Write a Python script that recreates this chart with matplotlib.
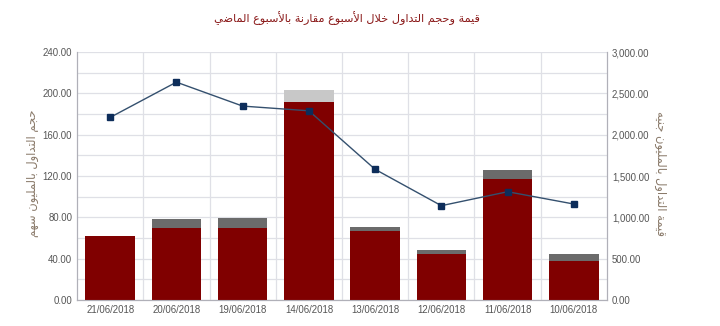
import matplotlib
matplotlib.use("Agg")
import matplotlib.pyplot as plt
import numpy as np

# data
dates = ["21/06/2018", "20/06/2018", "19/06/2018", "14/06/2018",
         "13/06/2018", "12/06/2018", "11/06/2018", "10/06/2018"]
volume_main = [62.0, 70.0, 70.0, 192.0, 67.0, 44.5, 117.0, 38.0]
volume_extra = [0.0, 8.5, 9.5, 11.0, 3.5, 3.5, 8.5, 6.0]
extra_colors = ["#6b6b6b", "#6b6b6b", "#6b6b6b", "#c8c8c8",
                "#6b6b6b", "#6b6b6b", "#6b6b6b", "#6b6b6b"]
value = [2210, 2637, 2347, 2290, 1581, 1141, 1310, 1161]

title = "قيمة وحجم التداول خلال الأسبوع مقارنة بالأسبوع الماضي"
left_label = "حجم التداول بالمليون سهم"
right_label = "قيمة التداول بالمليون جنيه"

# matplotlib has no arabic shaping, so do a small one by hand
# (isolated, final, initial, medial); two forms = joins only to the right
FORMS = {
    "ا": (0xFE8D, 0xFE8E), "أ": (0xFE83, 0xFE84),
    "ب": (0xFE8F, 0xFE90, 0xFE91, 0xFE92), "ة": (0xFE93, 0xFE94),
    "ت": (0xFE95, 0xFE96, 0xFE97, 0xFE98), "ج": (0xFE9D, 0xFE9E, 0xFE9F, 0xFEA0),
    "ح": (0xFEA1, 0xFEA2, 0xFEA3, 0xFEA4), "خ": (0xFEA5, 0xFEA6, 0xFEA7, 0xFEA8),
    "د": (0xFEA9, 0xFEAA), "ر": (0xFEAD, 0xFEAE),
    "س": (0xFEB1, 0xFEB2, 0xFEB3, 0xFEB4), "ض": (0xFEBD, 0xFEBE, 0xFEBF, 0xFEC0),
    "ع": (0xFEC9, 0xFECA, 0xFECB, 0xFECC), "ق": (0xFED5, 0xFED6, 0xFED7, 0xFED8),
    "ل": (0xFEDD, 0xFEDE, 0xFEDF, 0xFEE0), "م": (0xFEE1, 0xFEE2, 0xFEE3, 0xFEE4),
    "ن": (0xFEE5, 0xFEE6, 0xFEE7, 0xFEE8), "ه": (0xFEE9, 0xFEEA, 0xFEEB, 0xFEEC),
    "و": (0xFEED, 0xFEEE), "ي": (0xFEF1, 0xFEF2, 0xFEF3, 0xFEF4),
}
LAM_ALEF = {"ا": (0xFEFB, 0xFEFC), "أ": (0xFEF7, 0xFEF8)}


def shape(text):
    # merge lam + alef first
    units = []
    i = 0
    while i < len(text):
        c = text[i]
        if c == "ل" and i + 1 < len(text) and text[i + 1] in LAM_ALEF:
            units.append(("LA", text[i + 1]))
            i += 2
        else:
            units.append(("C", c))
            i += 1

    def dual(u):
        return u[0] == "C" and u[1] in FORMS and len(FORMS[u[1]]) == 4

    def arabic(u):
        return u[0] == "LA" or u[1] in FORMS

    out = []
    for k, u in enumerate(units):
        prev_join = k > 0 and dual(units[k - 1]) and arabic(u)
        if u[0] == "LA":
            f = LAM_ALEF[u[1]]
            out.append(chr(f[1] if prev_join else f[0]))
            continue
        c = u[1]
        if c not in FORMS:
            out.append(c)
            continue
        f = FORMS[c]
        next_join = dual(u) and k + 1 < len(units) and arabic(units[k + 1])
        if prev_join and next_join:
            out.append(chr(f[3]))
        elif prev_join:
            out.append(chr(f[1]))
        elif next_join:
            out.append(chr(f[2]))
        else:
            out.append(chr(f[0]))
    return "".join(out)[::-1]


plt.rcParams["font.family"] = ["Liberation Sans", "DejaVu Sans"]

fig = plt.figure(figsize=(7.2, 3.26), dpi=100)
ax = fig.add_axes([0.107, 0.080, 0.736, 0.760])
ax2 = ax.twinx()

x = np.arange(len(dates))
ax.bar(x, volume_main, width=0.75, color="#800000", zorder=3)
ax.bar(x, volume_extra, width=0.75, bottom=volume_main, color=extra_colors, zorder=3)

ax.set_xlim(-0.5, len(dates) - 0.5)
ax.set_ylim(0, 240)
ax.set_yticks(np.arange(0, 241, 40))
ax.set_yticklabels(["%.2f" % v for v in np.arange(0, 241, 40)])
ax.set_yticks(np.arange(0, 241, 20), minor=True)
ax.set_xticks(x)
ax.set_xticklabels(dates)
ax.set_xticks(np.arange(0.5, len(dates) - 0.5, 1), minor=True)

ax.grid(True, which="both", axis="y", color="#dfe0e6", lw=0.9, zorder=0)
ax.grid(True, which="minor", axis="x", color="#dfe0e6", lw=0.9, zorder=0)
ax.tick_params(axis="y", which="both", length=0, labelsize=6.9,
               labelcolor="#555555", pad=3.5)
ax.tick_params(axis="x", which="both", length=0, labelsize=6.9, labelcolor="#555555", pad=4)

ax2.plot(x, value, color="#34506e", lw=1, marker="s", ms=4.5,
         mfc="#0d2d5a", mec="#0d2d5a", zorder=4)
ax2.set_ylim(0, 3000)
ax2.set_yticks(np.arange(0, 3001, 500))
ax2.set_yticklabels(["{:,.2f}".format(v) for v in np.arange(0, 3001, 500)])
ax2.tick_params(axis="y", length=0, labelsize=6.9,
                labelcolor="#555555", pad=3.5)

for a in (ax, ax2):
    a.spines["top"].set_visible(False)
    for s in ("left", "right", "bottom"):
        a.spines[s].set_color("#b0b0b8")

fig.text(0.482, 0.942, shape(title), ha="center", va="center", fontsize=8.1,
         color="#8b1a1a", family="DejaVu Sans")
fig.text(0.045, 0.470, shape(left_label), ha="center", va="center", rotation=90,
         fontsize=8.3, color="#8a7a6a", family="DejaVu Sans")
fig.text(0.918, 0.468, shape(right_label), ha="center", va="center", rotation=270,
         fontsize=8.3, color="#8a7a6a", family="DejaVu Sans")

fig.savefig("out.png", dpi=100)
